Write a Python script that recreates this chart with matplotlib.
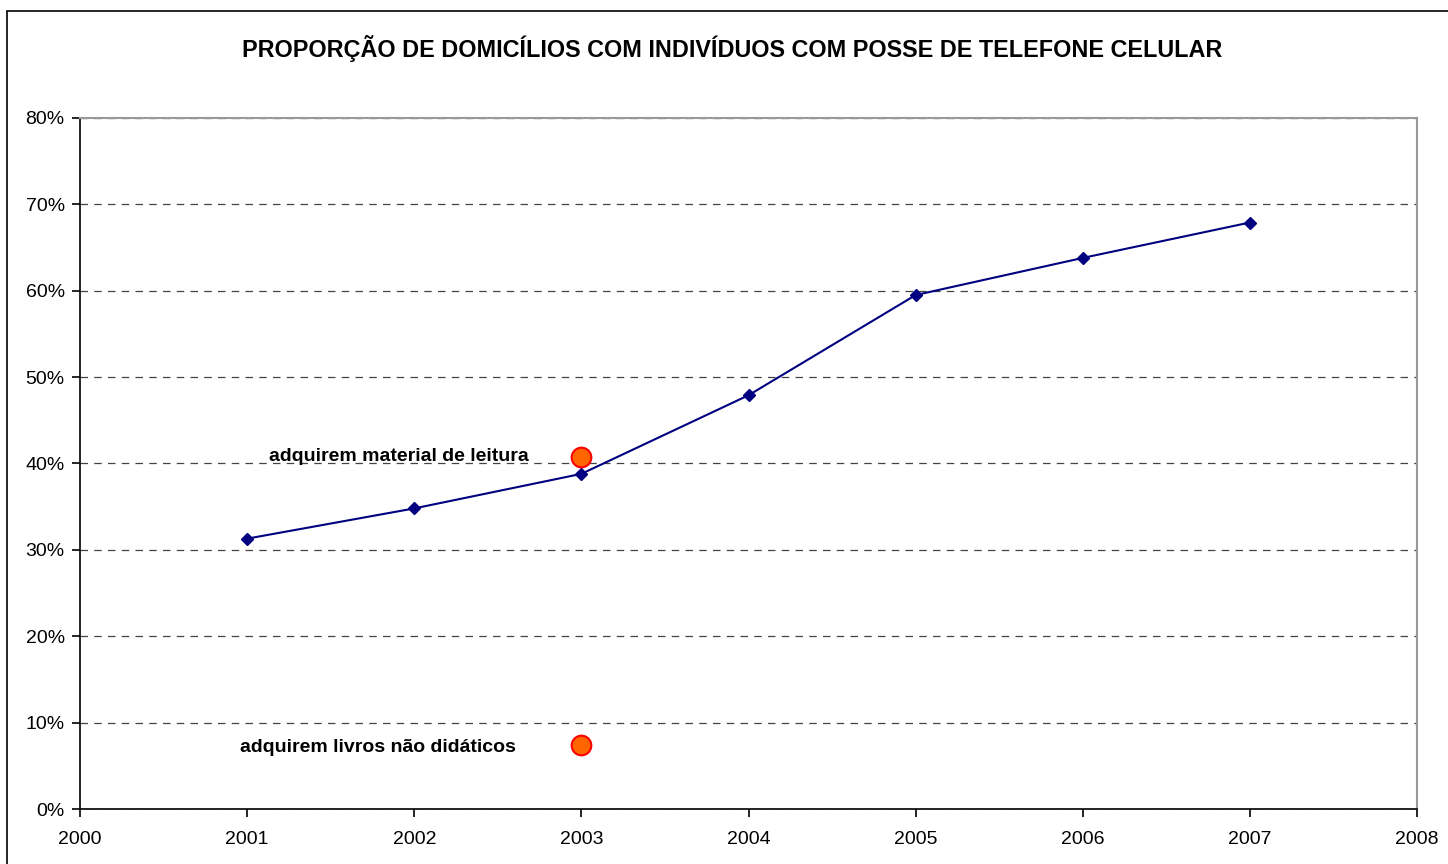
import matplotlib.pyplot as plt
from matplotlib.patches import Rectangle
from matplotlib.ticker import PercentFormatter

plt.rcParams['font.family'] = ['Liberation Sans', 'DejaVu Sans']

# dados
anos = [2001, 2002, 2003, 2004, 2005, 2006, 2007]
celular = [31.3, 34.8, 38.8, 47.9, 59.5, 63.8, 67.9]

destaque_anos = [2003, 2003]
destaque_valores = [40.7, 7.4]
destaque_rotulos = ['adquirem material de leitura', 'adquirem livros não didáticos']
rotulo_x = [2001.91, 2001.78]
rotulo_y = [40.8, 7.1]

fig = plt.figure(figsize=(14.48, 8.64), dpi=100)
ax = fig.add_axes([80/1448, 1 - 809/864, (1417-80)/1448, (809-118)/864])

# moldura da figura (borda direita/inferior fora da imagem)
fig.patches.append(Rectangle((7/1448, -0.05), 1, 1.05 - 11/864, transform=fig.transFigure,
                             fill=False, edgecolor='black', linewidth=1.2))

ax.plot(anos, celular, color='#000080', linewidth=1.5, marker='D', markersize=6, zorder=3)
ax.scatter(destaque_anos, destaque_valores, s=200, facecolor='#FF6600', edgecolor='red',
           linewidth=1.5, zorder=4)
for xr, yr, txt in zip(rotulo_x, rotulo_y, destaque_rotulos):
    ax.text(xr, yr, txt, ha='center', va='center', fontsize=14, fontweight='bold')

ax.set_xlim(2000, 2008)
ax.set_ylim(0, 80)
ax.set_xticks(range(2000, 2009))
ax.set_yticks(range(0, 81, 10))
ax.yaxis.set_major_formatter(PercentFormatter(decimals=0))
ax.grid(axis='y', linestyle=(0, (6, 5)), color='#444444', linewidth=0.9)
ax.set_axisbelow(True)

for s in ['top', 'right']:
    ax.spines[s].set_color('#999999')
    ax.spines[s].set_linewidth(1.5)
for s in ['left', 'bottom']:
    ax.spines[s].set_color('black')
    ax.spines[s].set_linewidth(1.2)
ax.tick_params(direction='out', length=6, width=1.2, labelsize=14)
ax.tick_params(axis='x', pad=10)
ax.tick_params(axis='y', pad=5)

fig.text(732/1448, 1 - 48/864, 'PROPORÇÃO DE DOMICÍLIOS COM INDIVÍDUOS COM POSSE DE TELEFONE CELULAR',
         ha='center', va='center', fontsize=16.8, fontweight='bold')

fig.savefig('out.png', dpi=100)
